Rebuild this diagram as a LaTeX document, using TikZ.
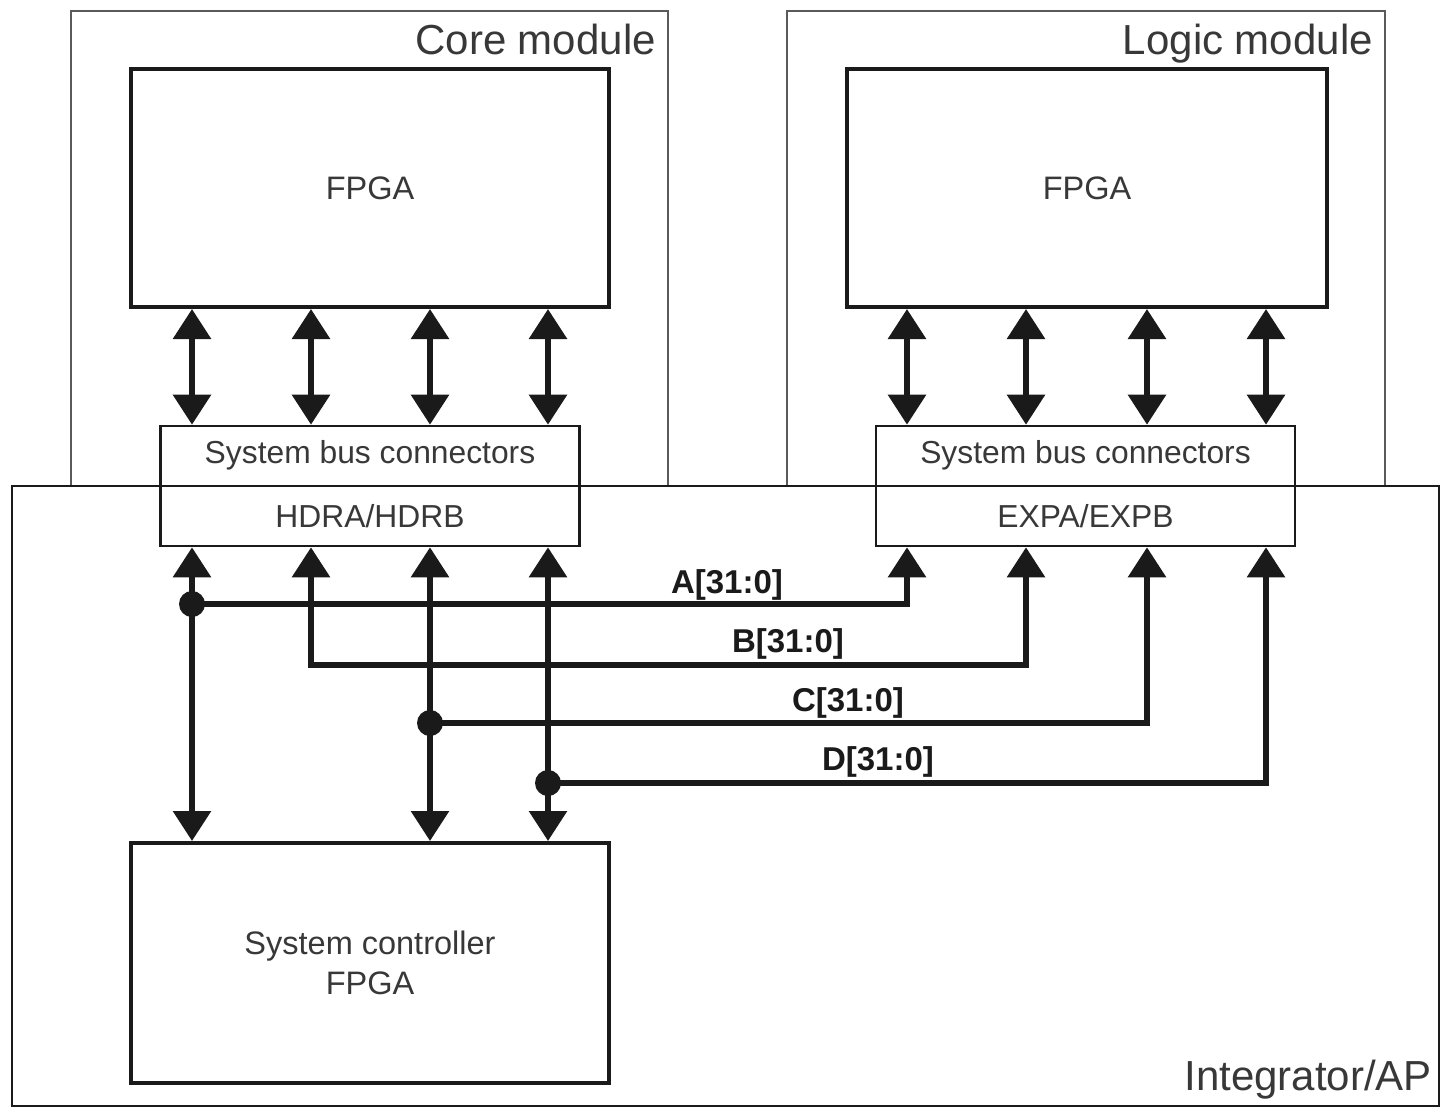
\documentclass[tikz,border=0pt]{standalone}
\usepackage{fontspec}
\setmainfont{Liberation Sans}
\usetikzlibrary{arrows.meta}
\definecolor{ink}{HTML}{1A1A1A}
\definecolor{txt}{HTML}{383838}
\definecolor{frame}{HTML}{5A5A5A}

\begin{document}
\begin{tikzpicture}[x=1pt,y=-1pt,
  module/.style={draw=frame, line width=1.8pt},
  board/.style={draw=ink, line width=2pt},
  chip/.style={draw=ink, line width=4pt, inner sep=0pt, text=txt,
    font=\fontsize{32.5}{40}\selectfont, align=center},
  connbox/.style={draw=ink, line width=2.6pt, minimum width=419pt,
    minimum height=120pt, inner sep=0pt},
  conntext/.style={text=txt, font=\fontsize{31.8}{37}\selectfont, inner sep=0pt},
  modtitle/.style={text=txt, font=\fontsize{42}{50}\selectfont, inner sep=0pt,
    anchor=base east},
  buslabel/.style={text=ink, font=\bfseries\fontsize{33}{40}\selectfont,
    inner sep=0pt, anchor=base},
  link/.style={draw=ink, line width=6pt},
  tip/.tip={Triangle[width=37pt,length=30pt]},
  twoway/.style={link, tip-tip},
  junction/.style={circle, fill=ink, minimum size=26pt, inner sep=0pt}
]
\useasboundingbox[fill=white] (0,0) rectangle (1441,1109);

% module and board outlines
\draw[module] (71,11) rectangle (668,486);
\draw[module] (787,11) rectangle (1385,486);
\draw[board] (12,486) rectangle (1439,1106);

\node[modtitle] (coretitle) at (656,54) {Core module};
\node[modtitle] (logictitle) at (1373,54) {Logic module};
\node[modtitle] (boardtitle) at (1432,1090) {Integrator/AP};

% FPGAs
\node[chip, minimum width=478pt, minimum height=238pt] (cfpga) at (370,188) {FPGA};
\node[chip, minimum width=480pt, minimum height=238pt] (lfpga) at (1087,188) {FPGA};
\node[chip, minimum width=478pt, minimum height=240pt] (ctrl) at (370,963)
  {System controller\\FPGA};

% system bus connector blocks
\node[connbox] (cbus) at (370,486) {};
\node[conntext] (cbustop) at (370,455) {System bus connectors};
\node[conntext] (cbusbot) at (370,516) {HDRA/HDRB};
\node[connbox] (ebus) at (1085.5,486) {};
\node[conntext] (ebustop) at (1085.5,455) {System bus connectors};
\node[conntext] (ebusbot) at (1085.5,516) {EXPA/EXPB};

% connector positions
\foreach \n/\x in {c1/192,c2/311,c3/430,c4/548,e1/907,e2/1026,e3/1147,e4/1266}
  \coordinate (\n) at (\x,0);

% module FPGA to connector links
\foreach \n in {c1,c2,c3,c4}
  \draw[twoway] (\n |- cfpga.south) -- (\n |- cbus.north);
\foreach \n in {e1,e2,e3,e4}
  \draw[twoway] (\n |- lfpga.south) -- (\n |- ebus.north);

% connector to system controller links
\foreach \n in {c1,c3,c4}
  \draw[twoway] (\n |- cbus.south) -- (\n |- ctrl.north);

% bus junctions
\node[junction] (ja) at (192,604) {};
\node[junction] (jc) at (430,723) {};
\node[junction] (jd) at (548,783) {};
\coordinate (bturn) at (311,665);

% buses A-D
\draw[link, -tip] (ja.center) -| (e1 |- ebus.south);
\draw[link, tip-tip] (c2 |- cbus.south) -- (bturn) -| (e2 |- ebus.south);
\draw[link, -tip] (jc.center) -| (e3 |- ebus.south);
\draw[link, -tip] (jd.center) -| (e4 |- ebus.south);

\node[buslabel] (la) at (727,593) {A[31:0]};
\node[buslabel] (lb) at (788,652) {B[31:0]};
\node[buslabel] (lc) at (848,711) {C[31:0]};
\node[buslabel] (ld) at (878,770) {D[31:0]};
\end{tikzpicture}
\end{document}
